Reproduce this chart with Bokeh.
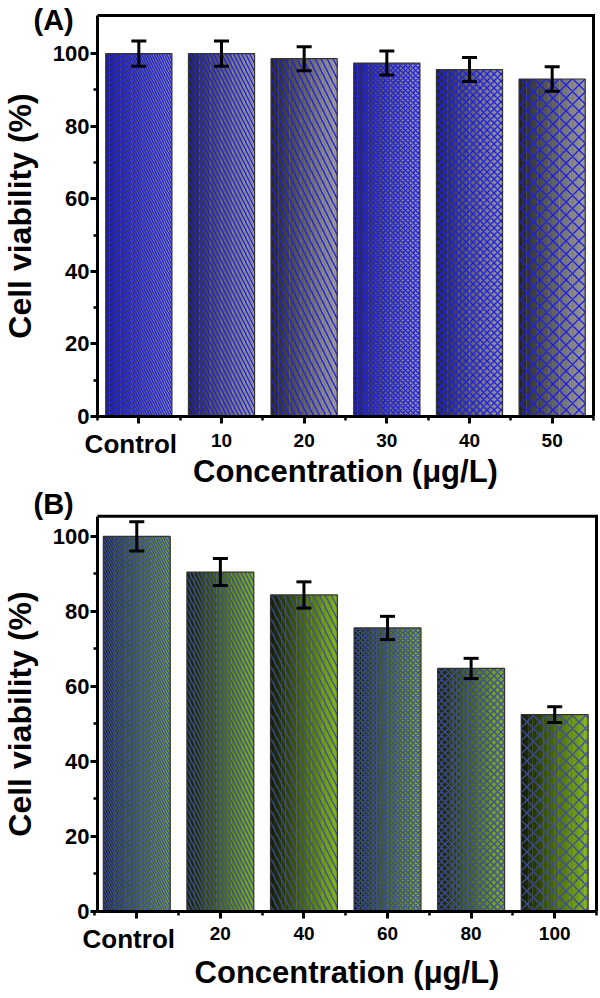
from bokeh.plotting import figure
from bokeh.models import (FixedTicker, Whisker, ColumnDataSource, TeeHead,
                          Range1d, LinearAxis)
from bokeh.core.properties import value
from bokeh.embed import file_html
from bokeh.resources import INLINE

# ---- data ----
categories_a = ["Control", "10", "20", "30", "40", "50"]
viability_a = [100.0, 100.0, 98.6, 97.4, 95.6, 93.0]
error_a = [3.5, 3.5, 3.3, 3.3, 3.3, 3.4]

categories_b = ["Control", "20", "40", "60", "80", "100"]
viability_b = [100.0, 90.5, 84.4, 75.6, 64.8, 52.5]
error_b = [3.9, 3.6, 3.5, 3.1, 2.7, 2.1]

y_ticks = [0, 20, 40, 60, 80, 100]
y_minor = [10, 30, 50, 70, 90]

# ---- styles / layout ----
hatch_patterns = ["\\", "\\", "\\", "x", "x", "x"]
hatch_scales = [5, 8, 12, 5, 7, 13]
FONT = "Liberation Sans"
W, H = 600, 998
TEXT_SHIFT = 9  # px correction for glyph text baseline


def ranges_for(frame_px, x_lo, x_hi, y_top):
    L, R, T, B = frame_px
    ppx = (R - L) / (x_hi - x_lo)
    ppy = (B - T) / y_top
    xr = Range1d(x_lo - L / ppx, x_hi + (W - R) / ppx)
    yr = Range1d(0 - (H - B) / ppy, y_top + T / ppy)
    return xr, yr, ppx, ppy


frame_a = (97, 593, 15, 416)
frame_b = (97, 596, 515.7, 911)
xr_a, yr_a, ppx_a, ppy_a = ranges_for(frame_a, -0.5, 5.5, 110.5)
xr_b, yr_b, ppx_b, ppy_b = ranges_for(frame_b, -0.47, 5.5, 105.4)

p = figure(width=W, height=H, x_range=xr_a, y_range=yr_a,
           output_backend="svg", toolbar_location=None,
           x_axis_location=None, y_axis_location=None,
           min_border=0, min_border_left=0, min_border_right=0,
           min_border_top=0, min_border_bottom=0)
p.extra_x_ranges = {"b": xr_b}
p.extra_y_ranges = {"b": yr_b}
p.outline_line_color = None
p.xgrid.visible = False
p.ygrid.visible = False


def draw_panel(cats, vals, errs, y_top, x_lo, x_hi, xr, yr, ppx, ppy, rn,
               c_dark, c_light, hatch_color, tag, tag_px, ctrl_base_px,
               lab_standoff, title_standoff):
    names = dict(x_range_name=rn, y_range_name=rn)

    def dx(px):
        return xr.start + px / ppx

    def dy(py):
        return yr.end - (py - TEXT_SHIFT) / ppy

    xs = list(range(len(cats)))
    bw = 0.8
    n = 18
    sx, stop, scol = [], [], []
    for i, v in enumerate(vals):
        for k in range(n):
            sx.append(xs[i] - bw / 2 + (k + 0.5) * bw / n)
            stop.append(v)
            t = k / (n - 1)
            c = tuple(int(round(a + (b - a) * t)) for a, b in zip(c_dark, c_light))
            scol.append("#%02x%02x%02x" % c)
    p.vbar(x=sx, top=stop, bottom=0, width=bw / n * 1.08, fill_color=scol,
           line_color=None, **names)
    p.vbar(x=xs, top=vals, bottom=0, width=bw, fill_alpha=0,
           hatch_pattern=hatch_patterns, hatch_scale=hatch_scales,
           hatch_color=hatch_color, hatch_weight=1.3,
           line_color="#333333", line_width=1.2, **names)

    src = ColumnDataSource(dict(x=xs,
                                upper=[v + e for v, e in zip(vals, errs)],
                                lower=[v - e for v, e in zip(vals, errs)]))
    w = Whisker(source=src, base="x", upper="upper", lower="lower",
                line_width=3, line_color="black",
                upper_head=TeeHead(size=15, line_width=3, line_color="black"),
                lower_head=TeeHead(size=15, line_width=3, line_color="black"),
                level="annotation", **names)
    p.add_layout(w)

    # top and right frame lines
    p.line(x=[x_lo, x_hi, x_hi], y=[y_top, y_top, 0], line_color="black",
           line_width=3, line_join="miter", **names)

    xaxis = LinearAxis(fixed_location=0, bounds=(x_lo, x_hi), **names)
    xaxis.ticker = FixedTicker(ticks=xs,
                               minor_ticks=[x - 0.5 for x in xs] + [xs[-1] + 0.5])
    overrides = {x: c for x, c in zip(xs, cats)}
    overrides[0] = ""
    xaxis.major_label_overrides = overrides
    yaxis = LinearAxis(fixed_location=x_lo, bounds=(0, y_top), **names)
    yaxis.ticker = FixedTicker(ticks=y_ticks, minor_ticks=y_minor)

    for ax in (xaxis, yaxis):
        ax.axis_line_width = 3
        ax.axis_line_color = "black"
        ax.major_tick_line_width = 3
        ax.minor_tick_line_width = 2.5
        ax.major_tick_out = 7
        ax.major_tick_in = 0
        ax.minor_tick_out = 4
        ax.minor_tick_in = 0
        ax.major_label_text_font = FONT
        ax.major_label_text_font_style = "bold"
        ax.major_label_text_color = "black"
        ax.axis_label_text_font = FONT
        ax.axis_label_text_font_style = "bold"
        ax.axis_label_text_color = "black"

    yaxis.major_label_text_font_size = "22px"
    yaxis.major_label_standoff = 1
    yaxis.axis_label = "Cell viability (%)"
    yaxis.axis_label_standoff = 12
    yaxis.axis_label_text_font_size = "32px"

    xaxis.major_label_text_font_size = "19px"
    xaxis.major_label_standoff = lab_standoff
    xaxis.axis_label = "Concentration (μg/L)"
    xaxis.axis_label_standoff = title_standoff
    xaxis.axis_label_text_font_size = "31px"

    p.add_layout(xaxis, "below")
    p.add_layout(yaxis, "left")

    # larger "Control" tick label and panel tag
    p.text(x=[xs[0]], y=[dy(ctrl_base_px)], text=[cats[0]], x_offset=-8,
           text_font=value(FONT), text_font_style="bold",
           text_font_size="26px", text_align="center",
           text_baseline="alphabetic", text_color="black", **names)
    p.text(x=[dx(tag_px[0])], y=[dy(tag_px[1])], text=[tag],
           text_font=value(FONT), text_font_style="bold",
           text_font_size="29px", text_align="left",
           text_baseline="alphabetic", text_color="black", **names)


draw_panel(categories_a, viability_a, error_a, 110.5, -0.5, 5.5,
           xr_a, yr_a, ppx_a, ppy_a, "default",
           (38, 38, 38), (150, 150, 150), "#1c1cf0",
           "(A)", (33, 28), 452, 10, 4)
draw_panel(categories_b, viability_b, error_b, 105.4, -0.47, 5.5,
           xr_b, yr_b, ppx_b, ppy_b, "b",
           (22, 32, 0), (125, 175, 20), "#3a4aa8",
           "(B)", (33, 512), 947, 8, 12)

open("out.html", "w").write(file_html(p, INLINE))
